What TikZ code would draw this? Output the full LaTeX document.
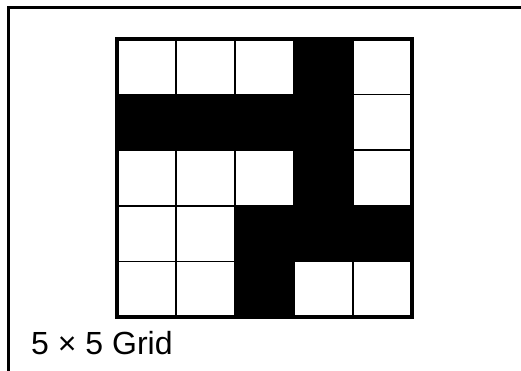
\documentclass[tikz,border=0pt]{standalone}
\usepackage{fontspec}
\setmainfont{Liberation Sans}
\usetikzlibrary{positioning}

\begin{document}
\begin{tikzpicture}[x=1pt,y=-1pt,
  cellbox/.style={draw=black,line width=1.6pt,fill=white},
  darkcell/.style={fill=black},
  frame/.style={draw=black,line width=3.5pt}]
\useasboundingbox (0,0) rectangle (521,371);
\fill[white] (0,0) rectangle (521,371);
% panel edge
\draw[line width=3pt] (8.5,371) |- (521,7.5);
% grid cells
\foreach \r in {0,...,4}
  \foreach \c in {0,...,4}
    \draw[cellbox] ({117+59*\c},{39+55.6*\r}) rectangle +(59,55.6);
\foreach \c/\r in {3/0,0/1,1/1,2/1,3/1,3/2,2/3,3/3,4/3,2/4}
  \fill[darkcell] ({117+59*\c},{39+55.6*\r}) rectangle +(59,55.6);
\draw[frame] (117,39) rectangle (412,317);
\node[anchor=base west,inner sep=0,font=\fontsize{32}{38}\selectfont] (gridlabel) at (31,354) {5 × 5 Grid};
\end{tikzpicture}
\end{document}
